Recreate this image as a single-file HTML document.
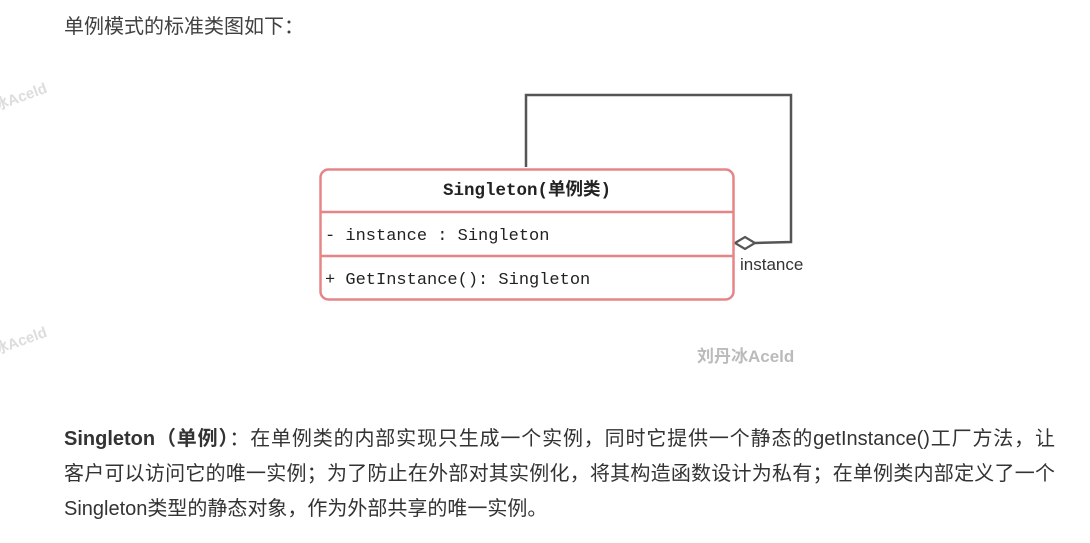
<!DOCTYPE html>
<html><head><meta charset="utf-8"><style>
html,body{margin:0;padding:0;background:#fff;width:1090px;height:543px;overflow:hidden;position:relative}
.t{position:absolute;font-family:"Liberation Sans","Noto Sans CJK SC",sans-serif;color:#333}
.ln{width:991px;text-align:justify;text-align-last:justify;white-space:nowrap;height:35px}
</style></head><body>
<div class="t" style="left:64px;top:10px;font-size:20px;color:#404040">单例模式的标准类图如下：</div>
<div class="t" style="left:-8px;top:86px;font-size:15px;color:#ddd;transform:rotate(-20deg);font-weight:bold">冰Aceld</div>
<div class="t" style="left:-8px;top:330px;font-size:15px;color:#ddd;transform:rotate(-20deg);font-weight:bold">冰Aceld</div>
<svg width="1090" height="543" style="position:absolute;left:0;top:0">
<polyline points="526,167 526,95 791,95 791,242 755,243" fill="none" stroke="#555" stroke-width="2.5"/>
<polygon points="735,243 745,237 755,243 745,249" fill="#fff" stroke="#555" stroke-width="2.2"/>
<rect x="320.5" y="169.5" width="413" height="130" rx="8" fill="#fff" stroke="#e58587" stroke-width="2.5"/>
<line x1="320" y1="212" x2="734" y2="212" stroke="#e58587" stroke-width="2.5"/>
<line x1="320" y1="256" x2="734" y2="256" stroke="#e58587" stroke-width="2.5"/>
<text x="527" y="195" text-anchor="middle" font-family="Liberation Mono,'Noto Sans CJK SC',monospace" font-size="17.5" font-weight="bold" fill="#222">Singleton(单例类)</text>
<text x="325" y="240" font-family="Liberation Mono,monospace" font-size="17" fill="#222">- instance : Singleton</text>
<text x="325" y="284" font-family="Liberation Mono,monospace" font-size="17" fill="#222">+ GetInstance(): Singleton</text>
<text x="740" y="270" font-family="Liberation Sans,sans-serif" font-size="17" fill="#333">instance</text>
<text x="697" y="362" font-family="Liberation Sans,'Noto Sans CJK SC',sans-serif" font-size="17" font-weight="bold" fill="#bbb">刘丹冰Aceld</text>
</svg>
<div class="t" style="left:64px;top:422px;font-size:20px;line-height:35px;color:#333">
<div class="ln"><b>Singleton（单例）</b>：在单例类的内部实现只生成一个实例，同时它提供一个静态的getInstance()工厂方法，让</div>
<div class="ln">客户可以访问它的唯一实例；为了防止在外部对其实例化，将其构造函数设计为私有；在单例类内部定义了一个</div>
<div style="white-space:nowrap">Singleton类型的静态对象，作为外部共享的唯一实例。</div>
</div>
</body></html>
